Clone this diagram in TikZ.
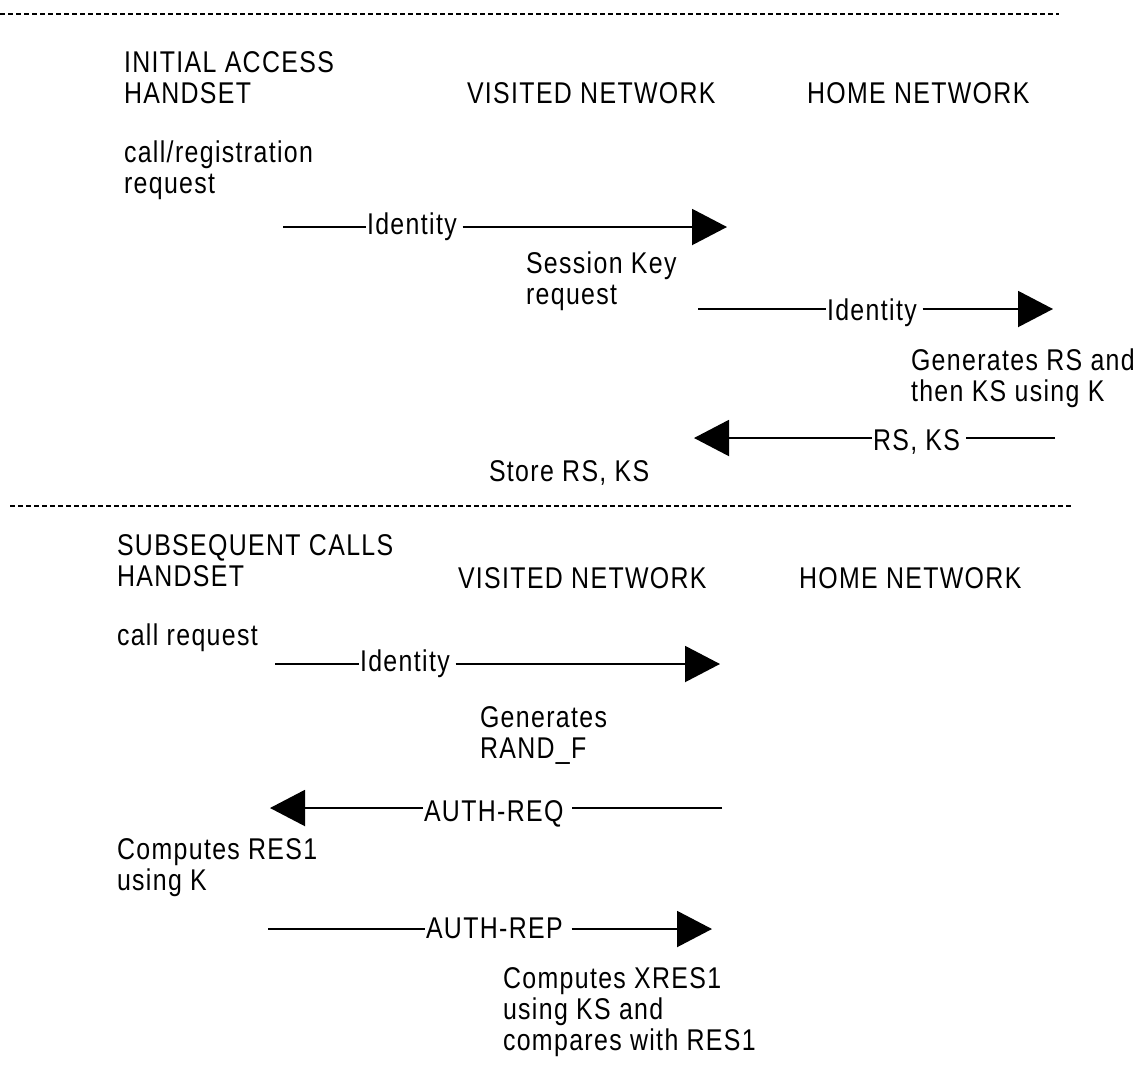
\documentclass[tikz,border=0pt]{standalone}
\usepackage{fontspec}
\setmainfont{Liberation Sans}[FakeStretch=0.83,LetterSpace=4.5]
\usetikzlibrary{arrows.meta}

\tikzset{
  txt/.style={anchor=base west, align=left, font=\fontsize{30}{31}\selectfont},
  lbl/.style={txt, inner xsep=1pt},
  wire/.style={draw=black, line width=2pt},
  msg/.style={wire, -{Triangle[length=35pt,width=36pt]}},
  sepline/.style={draw=black, line width=2.5pt, dash pattern=on 5pt off 3pt},
}

\begin{document}
\begin{tikzpicture}[y=1pt, x=1pt, yscale=-1, inner sep=0pt, outer sep=0pt]
\useasboundingbox (0,0) rectangle (1142,1071);

% separators
\path[sepline] (0,14) -- (1059,14);
\path[sepline] (10,506) -- (1072,506);

% initial access (multi-line nodes sit on their last baseline)
\node[txt] (initial) at (124,103) {INITIAL ACCESS\\HANDSET};
\node[txt] (visited1) at (467,103) {VISITED NETWORK};
\node[txt] (home1) at (807,103) {HOME NETWORK};
\node[txt] (callreg) at (124,193) {call/registration\\request};
\node[txt] (sesskey) at (526,304) {Session Key\\request};
\node[txt] (genrs) at (911,401) {Generates RS and\\then KS using K};
\node[txt] (store) at (489,481) {Store RS, KS};

\coordinate (id1a) at (283,227);
\coordinate (id1b) at (727,227);
\node[lbl] (id1) at (366,234) {Identity};
\path[wire] (id1a) -- (id1a -| id1.west);
\path[msg] ([xshift=5pt]id1a -| id1.east) -- (id1b);

\coordinate (id2a) at (698,309);
\coordinate (id2b) at (1053,309);
\node[lbl] (id2) at (826,320) {Identity};
\path[wire] (id2a) -- (id2a -| id2.west);
\path[msg] ([xshift=5pt]id2a -| id2.east) -- (id2b);

\coordinate (rska) at (1055,438);
\coordinate (rskb) at (694,438);
\node[lbl] (rsks) at (872,450) {RS, KS};
\path[wire] (rska) -- ([xshift=5pt]rska -| rsks.east);
\path[msg] (rska -| rsks.west) -- (rskb);

% subsequent calls
\node[txt] (subseq) at (117,586) {SUBSEQUENT CALLS\\HANDSET};
\node[txt] (visited2) at (458,588) {VISITED NETWORK};
\node[txt] (home2) at (799,588) {HOME NETWORK};
\node[txt] (callreq) at (117,645) {call request};
\node[txt] (genrand) at (480,758) {Generates\\RAND\_F};
\node[txt] (compres) at (117,890) {Computes RES1\\using K};
\node[txt] (compxres) at (503,1050) {Computes XRES1\\using KS and\\compares with RES1};

\coordinate (id3a) at (275,664);
\coordinate (id3b) at (720,664);
\node[lbl] (id3) at (359,671) {Identity};
\path[wire] (id3a) -- (id3a -| id3.west);
\path[msg] ([xshift=5pt]id3a -| id3.east) -- (id3b);

\coordinate (reqa) at (722,808);
\coordinate (reqb) at (270,808);
\node[lbl] (authreq) at (423,821) {AUTH-REQ};
\path[wire] (reqa) -- ([xshift=8pt]reqa -| authreq.east);
\path[msg] (reqa -| authreq.west) -- (reqb);

\coordinate (repa) at (268,929);
\coordinate (repb) at (712,929);
\node[lbl] (authrep) at (425,938) {AUTH-REP};
\path[wire] (repa) -- (repa -| authrep.west);
\path[msg] ([xshift=8pt]repa -| authrep.east) -- (repb);

\end{tikzpicture}
\end{document}
